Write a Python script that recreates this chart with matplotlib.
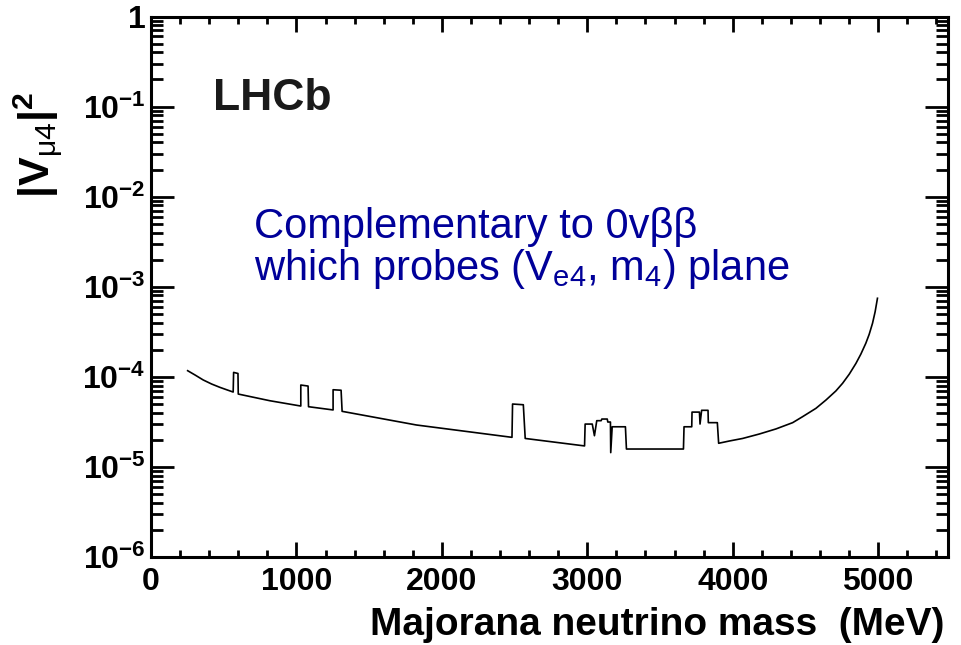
import matplotlib
matplotlib.use("Agg")
import matplotlib.pyplot as plt
from matplotlib.ticker import FixedLocator, MultipleLocator, LogLocator, NullFormatter

plt.rcParams['font.family'] = ['Liberation Sans', 'DejaVu Sans']
plt.rcParams['mathtext.fontset'] = 'custom'
plt.rcParams['mathtext.rm'] = 'Liberation Sans'
plt.rcParams['mathtext.it'] = 'Liberation Sans'
plt.rcParams['mathtext.bf'] = 'Liberation Sans:bold'

# Limit curve: Majorana neutrino mass (MeV) vs |V_mu4|^2
mass = [252, 302, 359, 417, 474, 520, 565, 568, 598, 600, 817, 1030, 1030, 1080, 1083,
        1252, 1252, 1307, 1314, 1825, 2482, 2486, 2560, 2573, 2981,
        2985, 3034, 3049, 3065, 3095, 3100, 3137, 3141, 3159, 3161, 3171,
        3262, 3269, 3661, 3665, 3718, 3720, 3771, 3775, 3786, 3830, 3832,
        3894, 3903, 3977, 4068, 4183, 4297, 4412, 4480, 4572, 4641, 4709, 4755,
        4801, 4847, 4881, 4915, 4938, 4961, 4979, 4995]
vmu4sq = [1.17e-4, 1.05e-4, 9.23e-5, 8.32e-5, 7.64e-5, 7.19e-5, 6.78e-5, 1.12e-4, 1.09e-4, 6.44e-5,
          5.43e-5, 4.74e-5, 8.11e-5, 7.9e-5, 4.66e-5,
          4.29e-5, 7.19e-5, 7.1e-5, 4.14e-5, 2.92e-5, 2.13e-5, 4.99e-5, 4.9e-5, 2.07e-5, 1.71e-5,
          2.99e-5, 2.99e-5, 2.22e-5, 3.26e-5, 3.26e-5, 3.40e-5, 3.40e-5, 3.15e-5, 3.15e-5, 1.44e-5, 2.79e-5,
          2.79e-5, 1.58e-5, 1.58e-5, 2.79e-5, 2.79e-5, 4.06e-5, 4.06e-5, 2.99e-5, 4.25e-5, 4.25e-5, 3.10e-5,
          3.10e-5, 1.83e-5, 1.94e-5, 2.07e-5, 2.32e-5, 2.64e-5, 3.10e-5, 3.61e-5, 4.47e-5, 5.53e-5,
          6.97e-5, 8.47e-5, 1.07e-4, 1.41e-4, 1.79e-4, 2.36e-4, 2.96e-4, 3.93e-4, 5.28e-4, 7.45e-4]

x_ticks = [0, 1000, 2000, 3000, 4000, 5000]
y_ticks = [1e-6, 1e-5, 1e-4, 1e-3, 1e-2, 1e-1, 1]
y_tick_labels = [r"$\mathbf{10^{-6}}$", r"$\mathbf{10^{-5}}$", r"$\mathbf{10^{-4}}$",
                 r"$\mathbf{10^{-3}}$", r"$\mathbf{10^{-2}}$", r"$\mathbf{10^{-1}}$", "1"]

fig = plt.figure(figsize=(9.61, 6.45), dpi=100)
ax = fig.add_axes([151/961, 1-557/645, 797/961, 540.5/645])

ax.plot(mass, vmu4sq, color='black', lw=1.2)

ax.set_yscale('log')
ax.set_xlim(0, 5480)
ax.set_ylim(1e-6, 1)

ax.xaxis.set_major_locator(FixedLocator(x_ticks))
ax.xaxis.set_minor_locator(MultipleLocator(200))
ax.set_xticklabels([str(t) for t in x_ticks])
ax.yaxis.set_major_locator(FixedLocator(y_ticks))
ax.set_yticklabels(y_tick_labels)
ax.yaxis.set_minor_locator(LogLocator(base=10, subs=range(2, 10), numticks=20))
ax.yaxis.set_minor_formatter(NullFormatter())

for sp in ax.spines.values():
    sp.set_linewidth(2.2)

ax.tick_params(axis='both', which='both', direction='in', top=True, right=True, width=2.0)
ax.tick_params(axis='x', which='major', length=10.5, pad=7, labelsize=23)
ax.tick_params(axis='x', which='minor', length=5.2)
ax.tick_params(axis='y', which='major', length=16.5, pad=4, labelsize=23)
ax.tick_params(axis='y', which='minor', length=8.6)
for lab in ax.get_xticklabels() + ax.get_yticklabels():
    lab.set_fontweight('bold')

ax.set_xlabel("Majorana neutrino mass  (MeV)", fontsize=28, fontweight='bold', ha='right', va='center')
ax.xaxis.set_label_coords(0.996, (557-625)/540.5)
ax.set_ylabel(r"$\mathbf{|V}_{\mathregular{\mu 4}}\mathbf{|}^{\mathbf{2}}$", fontsize=31, ha='center', va='center')
ax.yaxis.set_label_coords((38-151)/797, (557-145)/540.5)

ax.text((213-151)/797, (557-110)/540.5, "LHCb", transform=ax.transAxes, fontsize=32,
        fontweight='bold', color='#1a1a1a', ha='left', va='baseline')
ax.text((254-151)/797, (557-238)/540.5, "Complementary to 0vββ", transform=ax.transAxes,
        fontsize=30, color='#000099', ha='left', va='baseline')
ax.text((254-151)/797, (557-280)/540.5,
        r"which probes (V$_{\mathregular{e4}}$, m$_{\mathregular{4}}$) plane",
        transform=ax.transAxes, fontsize=30, color='#000099', ha='left', va='baseline')

fig.savefig("out.png", dpi=100)
